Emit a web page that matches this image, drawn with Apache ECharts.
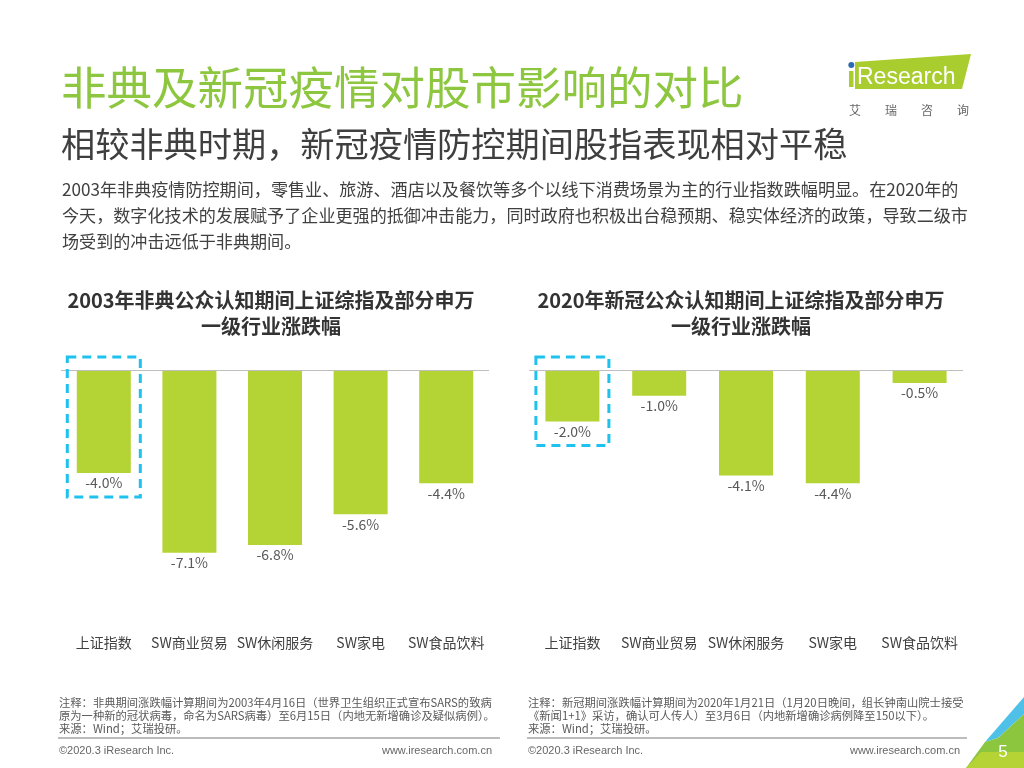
<!DOCTYPE html>
<html>
<head>
<meta charset="utf-8">
<script src="https://cdn.jsdelivr.net/npm/echarts@6/dist/echarts.min.js"></script>
<style>
html,body{margin:0;padding:0;background:#fff;}
#main{width:1024px;height:768px;}
</style>
</head>
<body>
<div id="main"></div>
<script>
// ---- data ----
var categories = ['上证指数', 'SW商业贸易', 'SW休闲服务', 'SW家电', 'SW食品饮料'];
var sars2003 = [-4.0, -7.1, -6.8, -5.6, -4.4];
var covid2020 = [-2.0, -1.0, -4.1, -4.4, -0.5];
var chartTitle1 = ['2003年非典公众认知期间上证综指及部分申万', '一级行业涨跌幅'];
var chartTitle2 = ['2020年新冠公众认知期间上证综指及部分申万', '一级行业涨跌幅'];
var mainTitle = '非典及新冠疫情对股市影响的对比';
var subTitle = '相较非典时期，新冠疫情防控期间股指表现相对平稳';
var bodyLines = [
  '2003年非典疫情防控期间，零售业、旅游、酒店以及餐饮等多个以线下消费场景为主的行业指数跌幅明显。在2020年的',
  '今天，数字化技术的发展赋予了企业更强的抵御冲击能力，同时政府也积极出台稳预期、稳实体经济的政策，导致二级市',
  '场受到的冲击远低于非典期间。'
];
var notes1 = [
  '注释：非典期间涨跌幅计算期间为2003年4月16日（世界卫生组织正式宣布SARS的致病',
  '原为一种新的冠状病毒，命名为SARS病毒）至6月15日（内地无新增确诊及疑似病例）。',
  '来源：Wind；艾瑞投研。'
];
var notes2 = [
  '注释：新冠期间涨跌幅计算期间为2020年1月21日（1月20日晚间，组长钟南山院士接受',
  '《新闻1+1》采访，确认可人传人）至3月6日（内地新增确诊病例降至150以下）。',
  '来源：Wind；艾瑞投研。'
];

var CJK = '"Noto Sans CJK SC", "Microsoft YaHei", sans-serif';
var LAT = 'Arial, "Liberation Sans", sans-serif';
var BAR = '#B4D335';

function txt(id, x, y, text, size, color, opts) {
  opts = opts || {};
  return {
    type: 'text', id: id, x: x, y: y, z: 10,
    style: {
      text: text, fontSize: size, fill: color,
      fontFamily: opts.family || CJK,
      fontWeight: opts.weight || 'normal',
      align: opts.align || 'left', verticalAlign: 'middle'
    }
  };
}

var graphics = [];
graphics.push(txt('t1', 61, 88, mainTitle, 45.5, '#8DC63F'));
graphics.push(txt('t2', 61, 144, subTitle, 34.2, '#3F3F3F'));
bodyLines.forEach(function (l, i) { graphics.push(txt('b' + i, 62, 189 + i * 26, l, 17.1, '#404040')); });
graphics.push(txt('ct1a', 271, 300, chartTitle1[0], 20, '#333333', {weight: 'bold', align: 'center'}));
graphics.push(txt('ct1b', 271, 326, chartTitle1[1], 20, '#333333', {weight: 'bold', align: 'center'}));
graphics.push(txt('ct2a', 741, 300, chartTitle2[0], 20, '#333333', {weight: 'bold', align: 'center'}));
graphics.push(txt('ct2b', 741, 326, chartTitle2[1], 20, '#333333', {weight: 'bold', align: 'center'}));
notes1.forEach(function (l, i) { graphics.push(txt('n1' + i, 59, 703 + i * 13, l, 11.3, '#595959')); });
notes2.forEach(function (l, i) { graphics.push(txt('n2' + i, 528, 703 + i * 13, l, 11.3, '#595959')); });
// rules
graphics.push({type: 'line', shape: {x1: 58, y1: 738, x2: 500, y2: 738}, style: {stroke: '#A6A6A6', lineWidth: 1.5}});
graphics.push({type: 'line', shape: {x1: 527, y1: 738, x2: 967, y2: 738}, style: {stroke: '#A6A6A6', lineWidth: 1.5}});
graphics.push(txt('f1', 59, 751, '©2020.3 iResearch Inc.', 11, '#666666', {family: LAT}));
graphics.push(txt('f2', 492, 751, 'www.iresearch.com.cn', 11, '#666666', {family: LAT, align: 'right'}));
graphics.push(txt('f3', 528, 751, '©2020.3 iResearch Inc.', 11, '#666666', {family: LAT}));
graphics.push(txt('f4', 960, 751, 'www.iresearch.com.cn', 11, '#666666', {family: LAT, align: 'right'}));
// logo
graphics.push({type: 'polygon', shape: {points: [[855, 62], [971, 54], [962, 89], [855, 89]]}, style: {fill: '#A9CD2E'}});
graphics.push({type: 'rect', shape: {x: 849, y: 71, width: 4.5, height: 16}, style: {fill: '#A9CD2E'}});
graphics.push({type: 'circle', shape: {cx: 851.3, cy: 65, r: 3}, style: {fill: '#2B6CB0'}});
graphics.push(txt('logo', 857, 78, 'Research', 23, '#FFFFFF', {family: LAT}));
['艾', '瑞', '咨', '询'].forEach(function (c, i) {
  graphics.push(txt('lg' + i, 855 + i * 36, 110, c, 12, '#666666', {align: 'center'}));
});
// corner decoration
graphics.push({type: 'polygon', shape: {points: [[985, 742], [1024, 697], [1024, 714], [998, 738]]}, style: {fill: '#4FC1E9'}});
graphics.push({type: 'polygon', shape: {points: [[966, 768], [985, 742], [998, 738], [1024, 714], [1024, 768]]}, style: {fill: '#8CC63F'}});
graphics.push({type: 'polygon', shape: {points: [[966, 768], [981, 752], [1024, 752], [1024, 768]]}, style: {fill: '#B5D335'}});
graphics.push(txt('pg', 1003, 752, '5', 17, '#FFFFFF', {family: LAT, align: 'center'}));

function barSeries(data, idx) {
  return {
    type: 'bar', xAxisIndex: idx, yAxisIndex: idx, data: data, barWidth: 54,
    itemStyle: {color: BAR},
    label: {
      show: true, position: 'bottom', distance: 3, fontSize: 14, color: '#595959',
      fontFamily: CJK,
      formatter: function (p) { return p.value.toFixed(1) + '%'; }
    },
    markLine: {
      silent: true, symbol: 'none', label: {show: false},
      lineStyle: {color: '#BFBFBF', width: 1, type: 'solid'},
      data: [{yAxis: 0}]
    },
    z: 3
  };
}

function xAx(idx) {
  return {
    type: 'category', gridIndex: idx, data: categories, position: 'bottom',
    axisLine: {show: false}, axisTick: {show: false},
    axisLabel: {fontSize: 14, color: '#404040', margin: 8, fontFamily: CJK, interval: 0}
  };
}
function yAx(idx) {
  return {type: 'value', gridIndex: idx, min: -10, max: 0, show: false, splitLine: {show: false}};
}

var chart = echarts.init(document.getElementById('main'), null, {renderer: 'canvas'});
chart.setOption({
  backgroundColor: '#FFFFFF',
  animation: false,
  grid: [
    {left: 61, width: 428, top: 370, height: 257.5},
    {left: 529, width: 434, top: 370, height: 257.5}
  ],
  xAxis: [xAx(0), xAx(1)],
  yAxis: [yAx(0), yAx(1)],
  series: [barSeries(sars2003, 0), barSeries(covid2020, 1)],
  graphic: graphics
});

// dashed highlight boxes around the first bar of each chart, derived from the scales
function box(id, idx, val) {
  var top = chart.convertToPixel({xAxisIndex: idx, yAxisIndex: idx}, [0, 0]);
  var bot = chart.convertToPixel({xAxisIndex: idx, yAxisIndex: idx}, [0, val]);
  var y1 = top[1] - 13, y2 = bot[1] + 24;
  return {
    type: 'rect', id: id, z: 20,
    shape: {x: top[0] - 36.5, y: y1, width: 73, height: y2 - y1},
    style: {fill: 'none', stroke: '#1FC1EF', lineWidth: 3, lineDash: [9, 6]}
  };
}
chart.setOption({graphic: [box('box1', 0, sars2003[0]), box('box2', 1, covid2020[0])]});
</script>
</body>
</html>
